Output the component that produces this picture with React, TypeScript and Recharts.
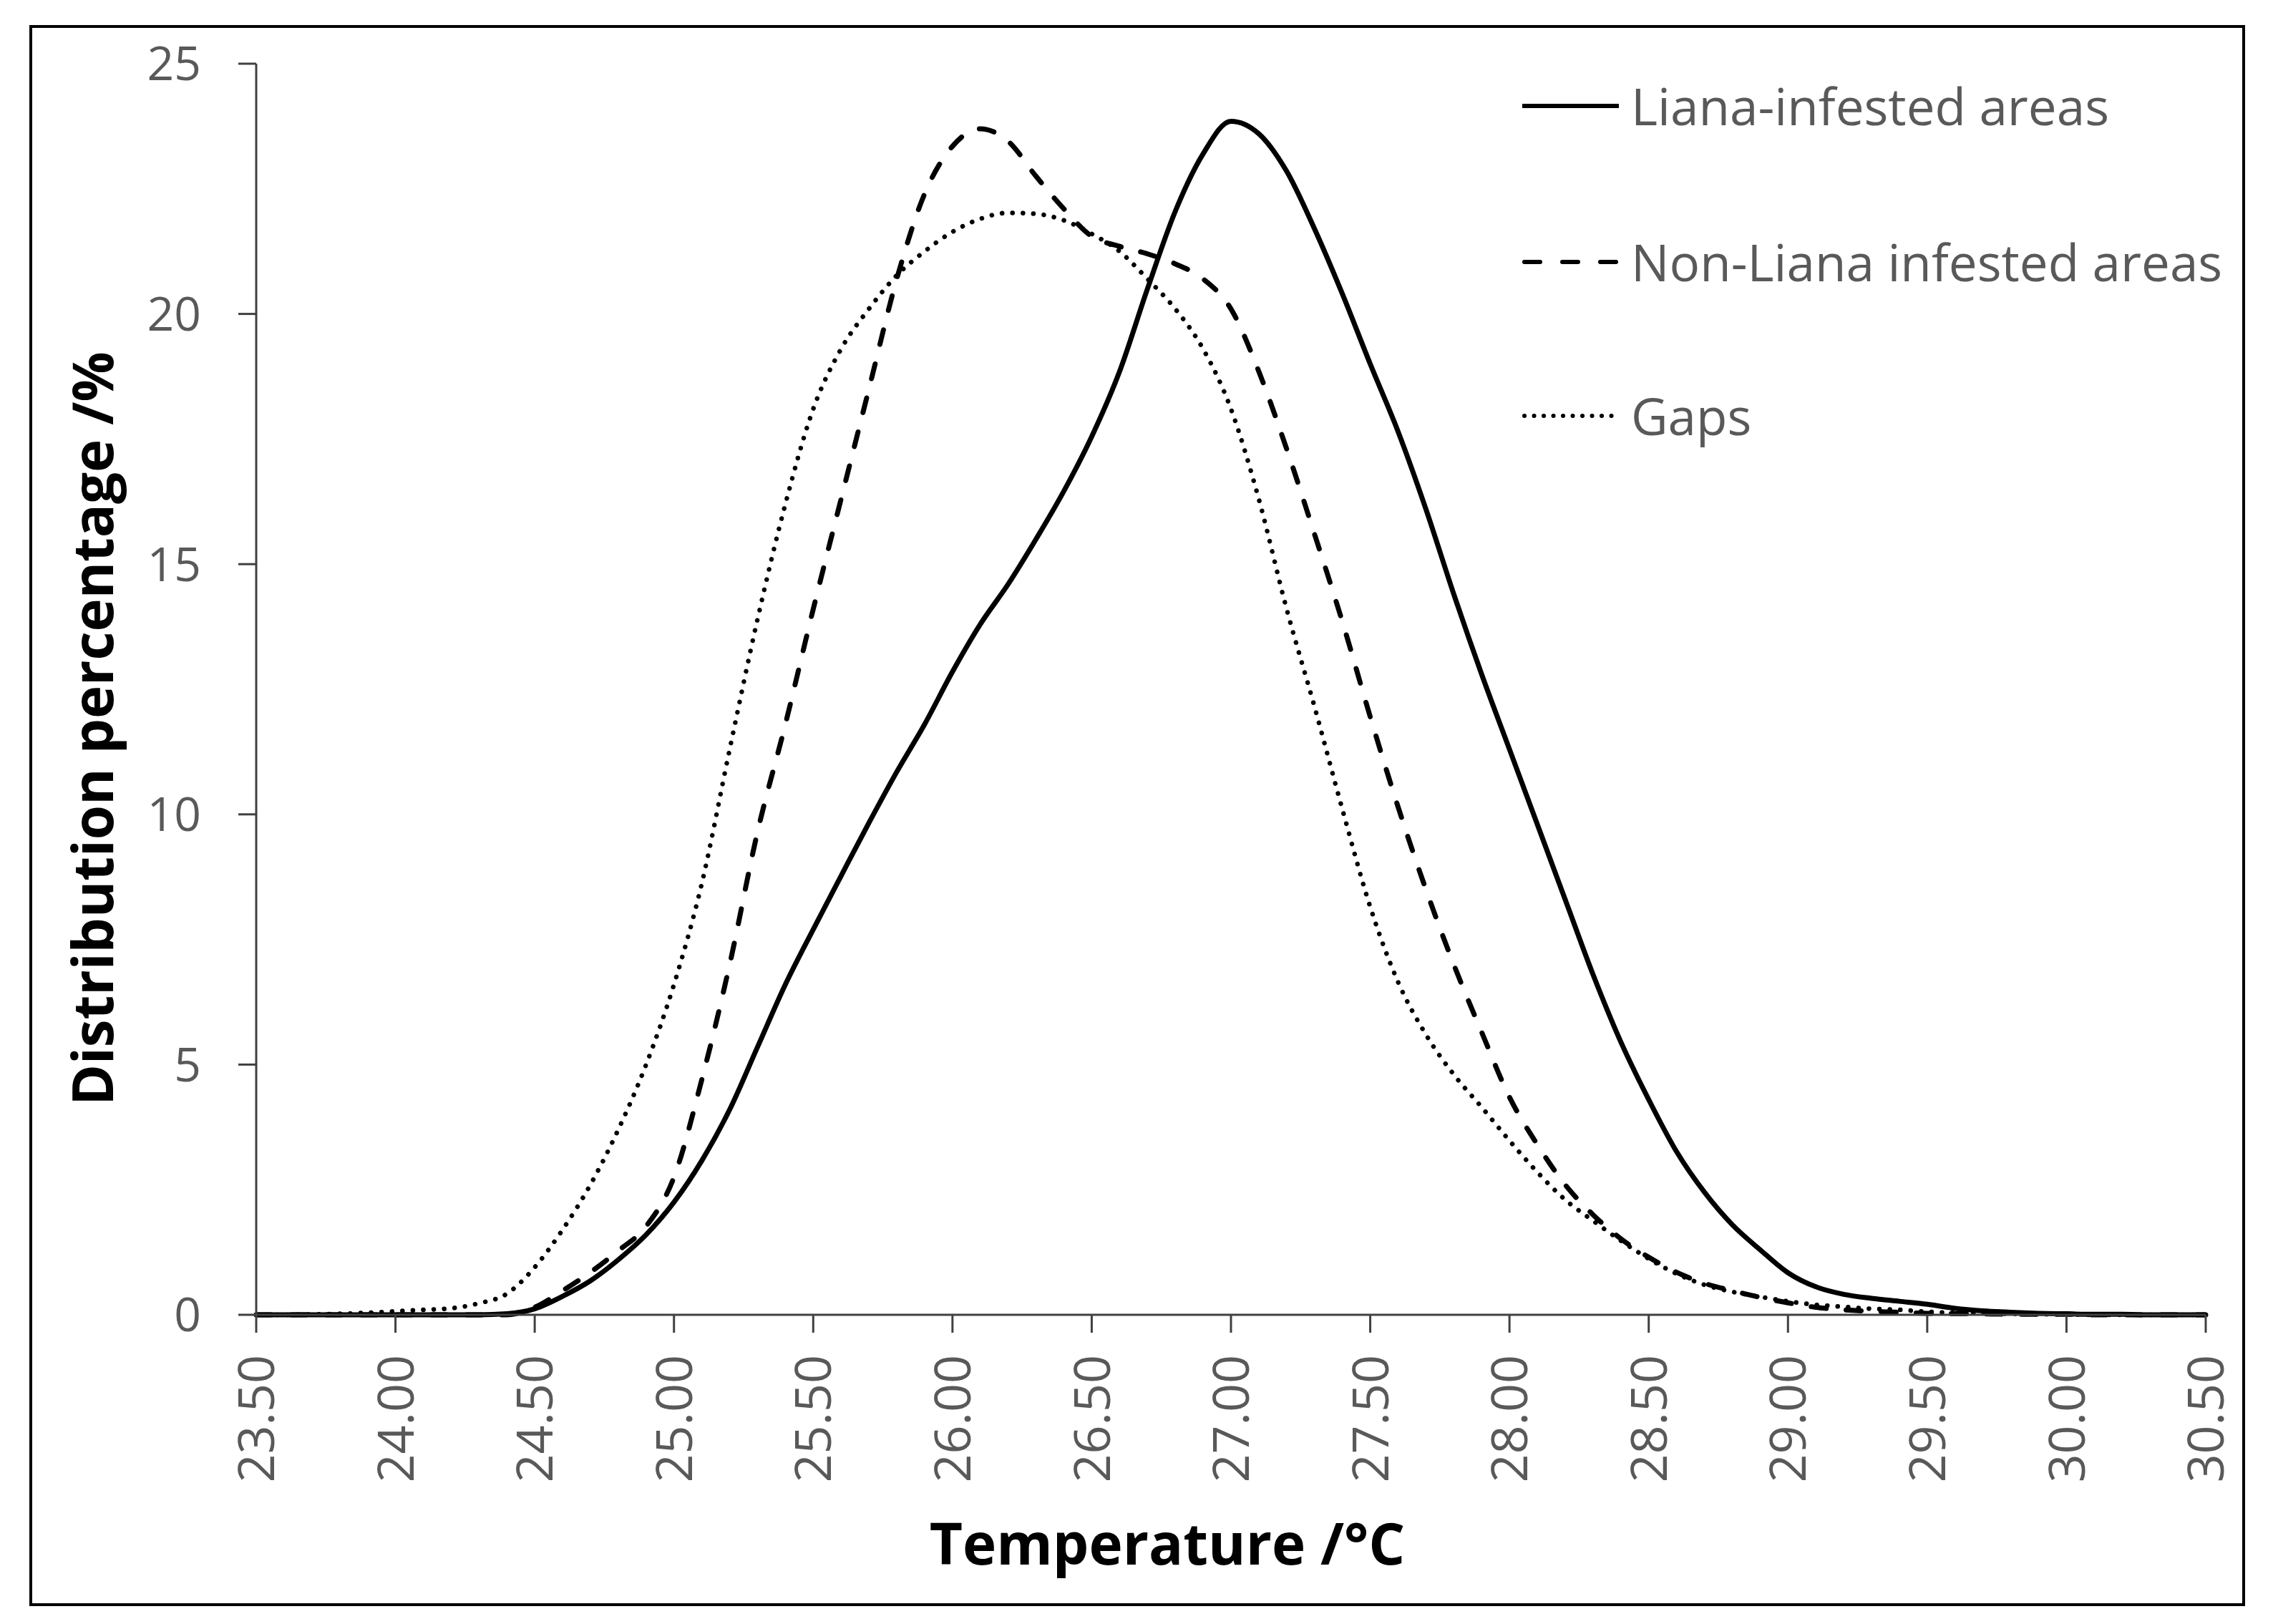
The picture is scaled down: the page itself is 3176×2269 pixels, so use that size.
import React from 'react';
import { LineChart, Line, XAxis, YAxis, Legend } from 'recharts';

const temperatures = [
  23.5, 23.6, 23.7, 23.8, 23.9, 24.0, 24.1, 24.2, 24.3, 24.4,
  24.5, 24.6, 24.7, 24.8, 24.9, 25.0, 25.1, 25.2, 25.3, 25.4,
  25.5, 25.6, 25.7, 25.8, 25.9, 26.0, 26.1, 26.2, 26.3, 26.4,
  26.5, 26.6, 26.7, 26.8, 26.9, 27.0, 27.1, 27.2, 27.3, 27.4,
  27.5, 27.6, 27.7, 27.8, 27.9, 28.0, 28.1, 28.2, 28.3, 28.4,
  28.5, 28.6, 28.7, 28.8, 28.9, 29.0, 29.1, 29.2, 29.3, 29.4,
  29.5, 29.6, 29.7, 29.8, 29.9, 30.0, 30.1, 30.2, 30.3, 30.4,
  30.5,
];

const lianaInfested = [
  0, 0, 0, 0, 0, 0, 0, 0, 0, 0.02,
  0.12, 0.37, 0.68, 1.1, 1.6, 2.25, 3.08, 4.1, 5.35, 6.6,
  7.7, 8.77, 9.83, 10.85, 11.8, 12.85, 13.8, 14.6, 15.5, 16.46,
  17.55, 18.85, 20.5, 22.05, 23.2, 23.85, 23.6, 22.85, 21.7, 20.4,
  19.0, 17.65, 16.1, 14.4, 12.8, 11.3, 9.8, 8.3, 6.8, 5.45,
  4.3, 3.26, 2.45, 1.8, 1.3, 0.84, 0.56, 0.41, 0.33, 0.27,
  0.21, 0.13, 0.08, 0.05, 0.03, 0.02, 0.01, 0.01, 0, 0,
  0,
];

const nonLianaInfested = [
  0, 0, 0, 0, 0, 0, 0, 0, 0, 0,
  0.15, 0.48, 0.85, 1.28, 1.77, 2.75, 4.7, 7.0, 9.65, 11.8,
  14.1, 16.3, 18.5, 20.7, 22.4, 23.35, 23.7, 23.45, 22.75, 22.1,
  21.55, 21.35, 21.2, 21.0, 20.7, 20.1, 18.85, 17.3, 15.6, 13.85,
  11.95, 10.15, 8.5, 7.0, 5.65, 4.35, 3.4, 2.6, 2.0, 1.52,
  1.15, 0.85, 0.63, 0.48, 0.35, 0.24, 0.15, 0.1, 0.07, 0.05,
  0.03, 0.02, 0.02, 0.01, 0.01, 0.01, 0, 0, 0, 0,
  0,
];

const gaps = [
  0, 0, 0.01, 0.02, 0.04, 0.07, 0.1, 0.13, 0.23, 0.42,
  0.95, 1.7, 2.6, 3.7, 5.0, 6.6, 8.62, 11.3, 13.9, 16.2,
  18.1, 19.3, 20.1, 20.77, 21.25, 21.64, 21.9, 22.02, 22.0, 21.87,
  21.6, 21.25, 20.7, 20.1, 19.3, 18.1, 16.3, 14.1, 12.15, 10.1,
  8.15, 6.65, 5.6, 4.8, 4.15, 3.48, 2.85, 2.3, 1.88, 1.48,
  1.12, 0.82, 0.6, 0.46, 0.36, 0.27, 0.2, 0.16, 0.12, 0.1,
  0.06, 0.04, 0.03, 0.02, 0.01, 0.01, 0, 0, 0, 0,
  0,
];

const xTicks = [23.5, 24.0, 24.5, 25.0, 25.5, 26.0, 26.5, 27.0, 27.5, 28.0, 28.5, 29.0, 29.5, 30.0, 30.5];
const yTicks = [0, 5, 10, 15, 20, 25];

const seriesNames = ['Liana-infested areas', 'Non-Liana infested areas', 'Gaps'];
const seriesKeys = ['liana', 'nonLiana', 'gaps'];

const xTitle = 'Temperature /°C';
const yTitle = 'Distribution percentage /%';

const data = temperatures.map((t, i) => ({
  t,
  liana: lianaInfested[i],
  nonLiana: nonLianaInfested[i],
  gaps: gaps[i],
}));

const FONT = "'Open Sans', sans-serif";
const TICK_COLOR = '#595959';
const AXIS_COLOR = '#404040';

const lineStyles = [
  { dash: undefined, cap: 'butt', legendDash: undefined, width: 7 },
  { dash: '21 28', cap: 'round', legendDash: '22 31', width: 7 },
  { dash: '0.1 14.5', cap: 'round', legendDash: '0.1 13.4', width: 6.5 },
];

const W = 3160;
const H = 2253;

const XTick = (props: any) => {
  const { x, y, payload } = props;
  return (
    <g transform={`translate(${x},${y})`}>
      <text
        transform="rotate(-90)"
        textAnchor="end"
        dy="0.36em"
        fill={TICK_COLOR}
        fontSize={70}
        fontFamily={FONT}
      >
        {Number(payload.value).toFixed(2)}
      </text>
    </g>
  );
};

const legendRowTops = [50, 268, 483];

const renderLegend = () => (
  <div style={{ position: 'relative', width: 1000, height: 600 }}>
    {seriesNames.map((name, i) => (
      <div
        key={name}
        style={{
          position: 'absolute',
          left: 0,
          top: legendRowTops[i],
          height: 100,
          display: 'flex',
          alignItems: 'center',
          whiteSpace: 'nowrap',
        }}
      >
        <svg width={135} height={20} style={{ display: 'block' }}>
          <line
            x1={lineStyles[i].cap === 'round' ? 3 : 0}
            y1={10}
            x2={lineStyles[i].cap === 'round' ? 132 : 135}
            y2={10}
            stroke="#000"
            strokeWidth={6}
            strokeDasharray={lineStyles[i].legendDash}
            strokeLinecap={lineStyles[i].cap as any}
          />
        </svg>
        <span
          style={{
            marginLeft: 17,
            fontFamily: FONT,
            fontSize: 71,
            color: TICK_COLOR,
            lineHeight: '100px',
          }}
        >
          {name}
        </span>
      </div>
    ))}
  </div>
);

export default function App() {
  return (
    <div style={{ position: 'relative', width: W, height: H }}>
      <LineChart
        width={W}
        height={H}
        data={data}
        margin={{ top: 81, right: 86, bottom: 0, left: 0 }}
      >
        <XAxis
          dataKey="t"
          type="number"
          domain={[23.5, 30.5]}
          ticks={xTicks}
          interval={0}
          height={424}
          tickSize={25}
          tickMargin={31}
          tick={<XTick />}
          axisLine={{ stroke: AXIS_COLOR, strokeWidth: 3 }}
          tickLine={{ stroke: AXIS_COLOR, strokeWidth: 3 }}
          label={(p: any) => (
            <text
              x={1623}
              y={2178}
              textAnchor="middle"
              fontFamily={FONT}
              fontWeight={700}
              fontSize={80}
              fill="#000"
            >
              {xTitle}
            </text>
          )}
        />
        <YAxis
          type="number"
          domain={[0, 25]}
          ticks={yTicks}
          interval={0}
          width={350}
          tickSize={25}
          tickMargin={52}
          tick={{ fill: TICK_COLOR, fontSize: 66, fontFamily: FONT }}
          axisLine={{ stroke: AXIS_COLOR, strokeWidth: 3 }}
          tickLine={{ stroke: AXIS_COLOR, strokeWidth: 3 }}
          label={(p: any) => (
            <text
              transform={`translate(150, 1010) rotate(-90)`}
              textAnchor="middle"
              fontFamily={FONT}
              fontWeight={700}
              fontSize={78}
              fill="#000"
            >
              {yTitle}
            </text>
          )}
        />
        <Legend
          layout="horizontal"
          verticalAlign="middle"
          align="center"
          content={renderLegend}
          wrapperStyle={{ position: 'absolute', left: 2119, top: 40, width: 1000, height: 600 }}
        />
        {seriesKeys.map((k, i) => (
          <Line
            key={k}
            dataKey={k}
            name={seriesNames[i]}
            type="monotone"
            stroke="#000"
            strokeWidth={lineStyles[i].width}
            strokeDasharray={lineStyles[i].dash}
            strokeLinecap={lineStyles[i].cap as any}
            dot={false}
            activeDot={false}
            isAnimationActive={false}
          />
        ))}
      </LineChart>
      <div
        style={{
          position: 'absolute',
          left: 33,
          top: 27,
          width: 3096,
          height: 2209,
          border: '4px solid #000',
          boxSizing: 'border-box',
          pointerEvents: 'none',
        }}
      />
    </div>
  );
}
